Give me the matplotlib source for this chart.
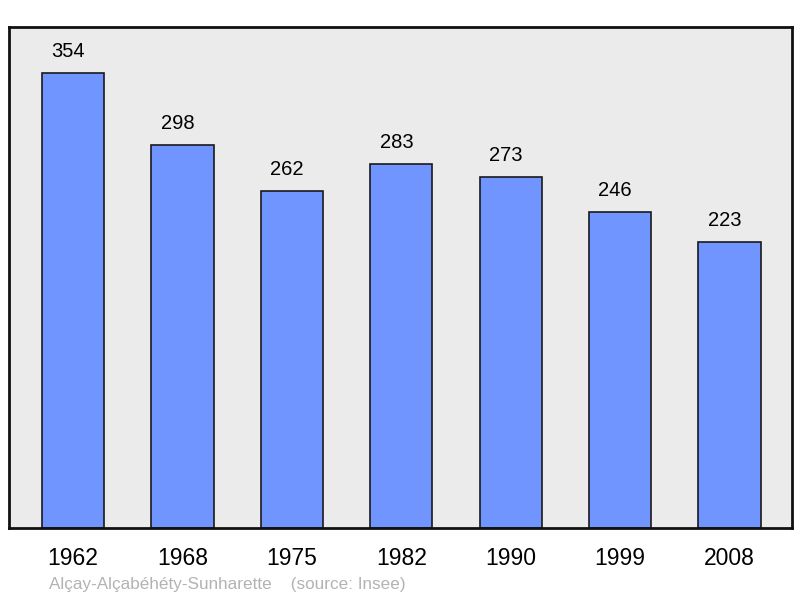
import matplotlib.pyplot as plt

years = ['1962', '1968', '1975', '1982', '1990', '1999', '2008']
population = [354, 298, 262, 283, 273, 246, 223]
footer = 'Alçay-Alçabéhéty-Sunharette    (source: Insee)'

plt.rcParams['font.family'] = ['Liberation Sans', 'DejaVu Sans']

fig = plt.figure(figsize=(8, 5.98), dpi=100)
ax = fig.add_axes([9 / 800, 1 - 528 / 598, 783 / 800, 501 / 598])
ax.set_facecolor('#ebebeb')

x = range(len(years))
bars = ax.bar(x, population, width=0.57, color='#7095ff',
              edgecolor='#1a1a1a', linewidth=1.2, zorder=2)
for xi, v in zip(x, population):
    ax.annotate(str(v), (xi, v), xytext=(-3.5, 15.5), textcoords='offset points',
                ha='center', va='center', fontsize=14.5)

ax.set_xlim(-0.585, 6.571)
ax.set_ylim(0, 390)
ax.set_yticks([])
ax.set_xticks(list(x))
ax.set_xticklabels(years, fontsize=16.5)
ax.tick_params(axis='x', length=0, pad=14)
for s in ax.spines.values():
    s.set_linewidth(2)
    s.set_color('#111111')

fig.text(49 / 800, 1 - 584 / 598, footer, fontsize=12.3, color='#b3b3b3',
         ha='left', va='center')

fig.savefig('out.png', dpi=100)
